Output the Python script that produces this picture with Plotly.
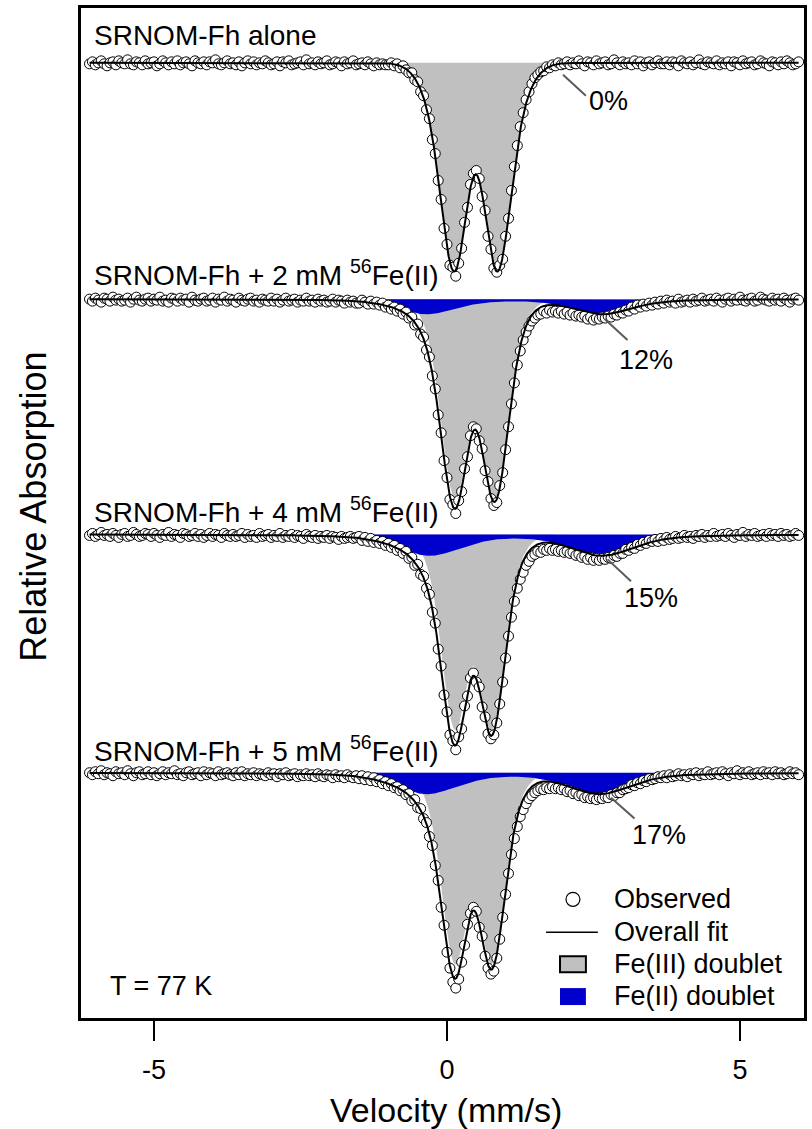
import numpy as np
import plotly.graph_objects as go

# 57Fe Mössbauer spectra (77 K) of SRNOM-ferrihydrite reacted with 56Fe(II)
V_START = -6.10   # velocity of the first channel, mm/s
V_STEP = 0.05     # channel width, mm/s

SAMPLE_LABELS = [
    "SRNOM-Fh alone",
    "SRNOM-Fh + 2 mM <sup>56</sup>Fe(II)",
    "SRNOM-Fh + 4 mM <sup>56</sup>Fe(II)",
    "SRNOM-Fh + 5 mM <sup>56</sup>Fe(II)",
]
FE2_PERCENT = [0, 12, 15, 17]

# Observed absorption per channel (x0.01 arbitrary units)
OBS_ALONE = [
    1, -1, 2, 0, -2, 1, 3, 0, -1, 2, -2, 0, 1, -3, 1, 2, -1, 0, 2, -2,
    1, 0, -1, 3, 1, -2, 0, 2, -1, 1, -2, 2, 0, -1, 1, 3, -2, 0, 1, -1,
    2, -1, 0, -3, 1, 2, 0, -2, 1, 0, 2, -1, 3, 0, -2, 1, -1, 2, 0, 1,
    -2, 0, 2, 1, -1, 3, -1, 0, -2, 2, 1, 0, -1, 2, -3, 1, 0, 2, -1, 1,
    0, -2, 2, 1, -1, 0, 3, -1, 1, 0, -2, 2, 1, 0, 2, -1, 1, 3, 0, 2,
    1, 2,
    2, 0, 3, 1, 5, 3, 7, 10, 10, 17, 19, 29, 33, 47, 56, 77, 91, 118, 137, 166,
    182, 203, 205, 214, 201, 186, 160, 145, 122, 111, 108, 116, 134, 148, 174, 187, 206, 210, 203, 197,
    174, 156, 128, 104, 83, 64, 50, 37, 29, 21, 15, 12, 9, 8, 4, 5, 2, 3, 0, 2,
    1,
    -1, 2, 0, 1, -2, 1, 3, -1, 0, 2, -2, 1, 0, -1, 2, 1, -3, 0, 2, -1,
    1, 0, 2, -2, 1, -1, 3, 0, -1, 2, 0, -2, 1, 1, -1, 2, -1, 0, 3, -2,
    0, 1, -1, 2, 0, -3, 1, 2, -1, 0, 1, -2, 2, 0, 1, -1, 3, -1, 0, 2,
    -2, 1, 0, -1, 2, 1, -2, 0, 1, 3, -1, 0, 2, -1, 1, -2, 0, 2, 1, -1,
]
OBS_2MM = [
    0, 2, -1, 1, 3, -1, 0, 2, -2, 1, 0, 2, 1, -1, 3, 0, -2, 1, 2, 0,
    -1, 2, 0, 1, -2, 2, 1, 3, -1, 0, 2, -1, 1, 0, 3, -2, 1, 2, 0, -1,
    2, 1, -1, 3, 0, 1, -2, 2, 0, 1, 3, -1, 1, 2, 0, -1, 2, 1, 3, 0,
    1, 2, -1, 2, 0, 3, 1, -1, 2, 1, 0, 3, 1, 2, -1, 2, 1, 3, 0, 2,
    1, 3, 2, 0, 3, 1, 2, 4, 1, 3, 2, 4,
    4, 1, 3, 5, 2, 5, 3, 6, 4, 8, 6, 10, 8, 12, 10, 15, 13, 19, 18, 26,
    25, 35, 38, 51, 58, 77, 90, 116, 134, 162, 179, 201, 206, 215, 202, 193, 170, 158, 137, 128,
    130, 142, 150, 172, 183, 200, 207, 204, 187, 174, 151, 128, 105, 84, 66, 52, 41, 33, 27, 22,
    19, 16, 15, 12, 14, 11, 13, 12, 14, 12, 15, 13, 16, 14, 17, 16, 18, 17, 20, 18,
    21, 19, 20, 18, 19, 17, 18, 15, 16, 13, 14, 11, 12, 8, 10, 6, 8, 5, 7, 4,
    6,
    3, 5, 2, 4, 1, 3, 2, 4, 0, 3, 2, 1, 3, 0, 2, 1, -1, 2, 1, 0,
    2, -1, 1, 3, 0, -1, 2, 0, 1, -2, 1, 2, 0, -1, 2, 1, -2, 0, 1, 2,
    -1, 1, 0, 2, -1, 1, 3, 0, -1, 1,
]
OBS_4MM = [
    1, -1, 2, 0, -2, 1, 0, 2, -1, 1, 3, 0, -1, 2, 1, -2, 0, 2, 1, -1,
    0, 2, -1, 1, 3, 0, 1, -2, 2, 0, 1, 3, -1, 0, 2, 1, -1, 2, 0, 3,
    1, -1, 2, 0, 1, 3, -1, 1, 2, 0, 2, 1, -1, 3, 0, 2, 1, 3, -1, 2,
    1, 0, 3, 1, 2, -1, 3, 1, 2, 0, 3, 1, 2, 4, 0, 2, 3, 1, 4, 2,
    3, 1, 4, 2, 3, 5, 2, 4, 3, 2, 4, 3,
    2, 6, 3, 7, 4, 8, 6, 9, 7, 11, 9, 13, 11, 16, 14, 19, 17, 24, 23, 31,
    30, 40, 42, 54, 60, 78, 89, 115, 132, 161, 178, 201, 207, 216, 203, 195, 172, 162, 144, 139,
    148, 153, 173, 183, 200, 205, 201, 189, 170, 148, 124, 102, 83, 67, 54, 45, 38, 31, 27, 22,
    20, 17, 18, 15, 16, 14, 16, 15, 17, 16, 18, 17, 19, 18, 21, 20, 23, 22, 25, 23,
    26, 24, 26, 24, 25, 23, 24, 21, 22, 19, 19, 15, 16, 13, 14, 10, 11, 8, 9, 6,
    7,
    5, 7, 4, 6, 3, 5, 4, 2, 4, 3, 1, 3, 2, 4, 1, 2, 0, 3, 1, 2,
    -1, 2, 1, 0, 2, -1, 1, 3, 0, 1, -2, 2, 0, 1, -1, 2, 1, 0, 2, -1,
    1, 0, 2, -1, 1, 0, 2, 1, -1, 1,
]
OBS_5MM = [
    0, 2, -1, 1, -2, 2, 0, 1, 3, -1, 1, 0, 2, -2, 1, 3, 0, -1, 2, 1,
    -1, 2, 0, 3, 1, -1, 2, 0, 1, -2, 2, 1, 3, 0, -1, 2, 1, 0, 3, -1,
    2, 0, 1, 3, -1, 2, 1, 0, 2, 3, 0, 2, -1, 3, 1, 2, 0, 3, 1, 2,
    3, 0, 2, 1, 4, 1, 2, 0, 3, 2, 1, 4, 2, 3, 1, 3, 2, 4, 1, 3,
    4, 2, 3, 5, 2, 4, 3, 5, 2, 4, 5, 3,
    6, 3, 7, 4, 8, 5, 9, 7, 11, 9, 13, 11, 15, 14, 18, 17, 22, 21, 28, 27,
    35, 36, 46, 50, 64, 73, 93, 108, 135, 153, 180, 196, 210, 216, 207, 190, 173, 152, 141, 135,
    139, 155, 164, 184, 196, 202, 199, 186, 167, 145, 122, 101, 82, 66, 54, 44, 37, 31, 26, 23,
    20, 18, 16, 17, 15, 16, 14, 16, 15, 17, 16, 19, 18, 21, 20, 23, 22, 25, 24, 26,
    25, 27, 25, 26, 24, 25, 22, 23, 20, 20, 17, 16, 15, 12, 13, 10, 11, 8, 9, 6,
    7,
    6, 4, 5, 3, 5, 2, 4, 3, 1, 3, 2, 4, 1, 2, 0, 3, 1, 2, -1, 2,
    1, 0, 2, -1, 1, 3, 0, 1, -2, 2, 0, 1, -1, 2, 1, 0, 2, -1, 1, 0,
    2, -1, 1, 0, 2, 1, -1, 1, 0, 2,
]
OBSERVED = [OBS_ALONE, OBS_2MM, OBS_4MM, OBS_5MM]

# Fitted Fe(III) doublet, described by two quadrupole-splitting components
FE3_CS = [0.490, 0.475, 0.450, 0.450]
FE3_QS = [0.70, 0.65, 0.60, 0.60]
FE3_SIGMA = [0.220, 0.219, 0.209, 0.209]
FE3_DEPTH = [178, 178, 173, 169]
FE3_WIDE_CS = [0.490, 0.475, 0.450, 0.450]
FE3_WIDE_QS = [1.20, 1.15, 1.10, 1.10]
FE3_WIDE_SIGMA = [0.30, 0.28, 0.28, 0.28]
FE3_WIDE_DEPTH = [41.6, 30, 30, 30]

# Fitted Fe(II) doublet
FE2_CS = [1.150, 1.150, 1.175, 1.125]
FE2_QS = [3.00, 3.00, 2.95, 2.95]
FE2_HWHM = [0.60, 0.60, 0.65, 0.65]
FE2_DEPTH = [0, 15, 21, 21]

# ---- layout constants -------------------------------------------------------
W, H = 812, 1129
ML, MR, MT, MB = 81, 5, 5, 111
X_RANGE = [-6.245, 6.092]
Y_RANGE = [-1013, 0]
BASELINE = [-55, -292, -528, -767]
LABEL_DY = [27, 26, 25, 24]
PCT_X = [2.76, 3.40, 3.48, 3.62]
PCT_DY = [-38, -61, -64, -62]
LEADERS = [(1.98, -12, 2.37, -33), (2.69, -20, 3.08, -41),
           (2.74, -25, 3.14, -47), (2.80, -25, 3.20, -46)]

FONT = "Liberation Sans, Arial, sans-serif"
GREY = "#c0c0c0"
BLUE = "#0000cc"


def gauss_doublet(v, cs, qs, sigma, depth):
    s2 = 2.0 * sigma ** 2
    return depth * (np.exp(-(v - (cs - qs / 2)) ** 2 / s2)
                    + np.exp(-(v - (cs + qs / 2)) ** 2 / s2))


def pv_doublet(v, cs, qs, hwhm, depth, eta=0.5):
    out = np.zeros_like(v)
    for c in (cs - qs / 2, cs + qs / 2):
        r2 = ((v - c) / hwhm) ** 2
        out += eta / (1 + r2) + (1 - eta) * np.exp(-np.log(2) * r2)
    return depth * out


def xp(px):
    return (px - ML) / (W - ML - MR)


def yp(py):
    return (H - MB - py) / (H - MB - MT)


fig = go.Figure()
fills, points, lines = [], [], []

for i, obs in enumerate(OBSERVED):
    obs = np.asarray(obs, dtype=float)
    assert len(obs) == 243, (i, len(obs))
    vel = V_START + V_STEP * np.arange(len(obs))
    base = BASELINE[i]
    vfit = np.linspace(vel[0], vel[-1], 2400)

    fe3 = (gauss_doublet(vfit, FE3_CS[i], FE3_QS[i], FE3_SIGMA[i], FE3_DEPTH[i])
           + gauss_doublet(vfit, FE3_WIDE_CS[i], FE3_WIDE_QS[i],
                           FE3_WIDE_SIGMA[i], FE3_WIDE_DEPTH[i]))
    fe2 = pv_doublet(vfit, FE2_CS[i], FE2_QS[i], FE2_HWHM[i], FE2_DEPTH[i])
    total = fe3 + fe2

    fills.append(go.Scatter(
        x=np.concatenate([vfit, vfit[::-1]]),
        y=np.concatenate([base - fe3, np.full_like(vfit, base)]),
        fill="toself", fillcolor=GREY, line=dict(width=0),
        mode="lines", hoverinfo="skip", showlegend=False))
    if FE2_DEPTH[i] > 0:
        fills.append(go.Scatter(
            x=np.concatenate([vfit, vfit[::-1]]),
            y=np.concatenate([base - fe2, np.full_like(vfit, base)]),
            fill="toself", fillcolor=BLUE, line=dict(width=0),
            mode="lines", hoverinfo="skip", showlegend=False))
    points.append(go.Scatter(
        x=vel, y=base - obs, mode="markers", showlegend=False,
        marker=dict(symbol="circle", size=10, color="white",
                    line=dict(color="black", width=1))))
    lines.append(go.Scatter(
        x=vfit, y=base - total, mode="lines", showlegend=False,
        line=dict(color="black", width=2)))

for t in fills + points + lines:
    fig.add_trace(t)

annotations = []
shapes = []
for i, label in enumerate(SAMPLE_LABELS):
    annotations.append(dict(
        x=-6.06, y=BASELINE[i] + LABEL_DY[i], xref="x", yref="y",
        text=label, showarrow=False, xanchor="left", yanchor="middle",
        font=dict(family=FONT, size=28, color="black")))
    annotations.append(dict(
        x=PCT_X[i], y=BASELINE[i] + PCT_DY[i], xref="x", yref="y",
        text=f"{FE2_PERCENT[i]}%", showarrow=False,
        xanchor="center", yanchor="middle",
        font=dict(family=FONT, size=27, color="black")))
    x0, dy0, x1, dy1 = LEADERS[i]
    shapes.append(dict(type="line", xref="x", yref="y",
                       x0=x0, y0=BASELINE[i] + dy0, x1=x1, y1=BASELINE[i] + dy1,
                       line=dict(color="#5a5a5a", width=2)))

# legend
shapes += [
    dict(type="circle", xref="paper", yref="paper",
         x0=xp(568), x1=xp(582), y0=yp(906), y1=yp(892),
         fillcolor="white", line=dict(color="black", width=1.2)),
    dict(type="line", xref="paper", yref="paper",
         x0=xp(548), x1=xp(600), y0=yp(932), y1=yp(932),
         line=dict(color="black", width=1.5)),
    dict(type="rect", xref="paper", yref="paper",
         x0=xp(562), x1=xp(588), y0=yp(972), y1=yp(956),
         fillcolor=GREY, line=dict(color="black", width=2)),
    dict(type="rect", xref="paper", yref="paper",
         x0=xp(562), x1=xp(588), y0=yp(1005), y1=yp(988),
         fillcolor=BLUE, line=dict(width=0)),
]
for text, py in [("Observed", 899), ("Overall fit", 932),
                 ("Fe(III) doublet", 964), ("Fe(II) doublet", 996)]:
    annotations.append(dict(
        x=xp(614), y=yp(py), xref="paper", yref="paper", text=text,
        showarrow=False, xanchor="left", yanchor="middle",
        font=dict(family=FONT, size=27, color="black")))

annotations.append(dict(
    x=xp(108), y=yp(986), xref="paper", yref="paper", text="T = 77 K",
    showarrow=False, xanchor="left", yanchor="middle",
    font=dict(family=FONT, size=27, color="black")))
annotations.append(dict(
    x=xp(448), y=yp(1110), xref="paper", yref="paper", text="Velocity (mm/s)",
    showarrow=False, xanchor="center", yanchor="middle",
    font=dict(family=FONT, size=34, color="black")))
annotations.append(dict(
    x=xp(33), y=yp(505), xref="paper", yref="paper", text="Relative Absorption",
    showarrow=False, xanchor="center", yanchor="middle", textangle=-90,
    font=dict(family=FONT, size=36, color="black")))

fig.update_layout(
    width=W, height=H, margin=dict(l=ML, r=MR, t=MT, b=MB),
    paper_bgcolor="white", plot_bgcolor="white",
    showlegend=False, annotations=annotations, shapes=shapes,
    xaxis=dict(range=X_RANGE, tickvals=[-5, 0, 5], ticktext=["-5", "0", "5"],
               ticks="outside", ticklen=20, tickwidth=2, tickcolor="black",
               tickfont=dict(family=FONT, size=27, color="black"),
               showline=True, linewidth=2.5, linecolor="black", mirror=True,
               showgrid=False, zeroline=False, ticklabelstandoff=6),
    yaxis=dict(range=Y_RANGE, showticklabels=False, ticks="",
               showline=True, linewidth=2.5, linecolor="black", mirror=True,
               showgrid=False, zeroline=False),
)

fig.write_html("out.html")
